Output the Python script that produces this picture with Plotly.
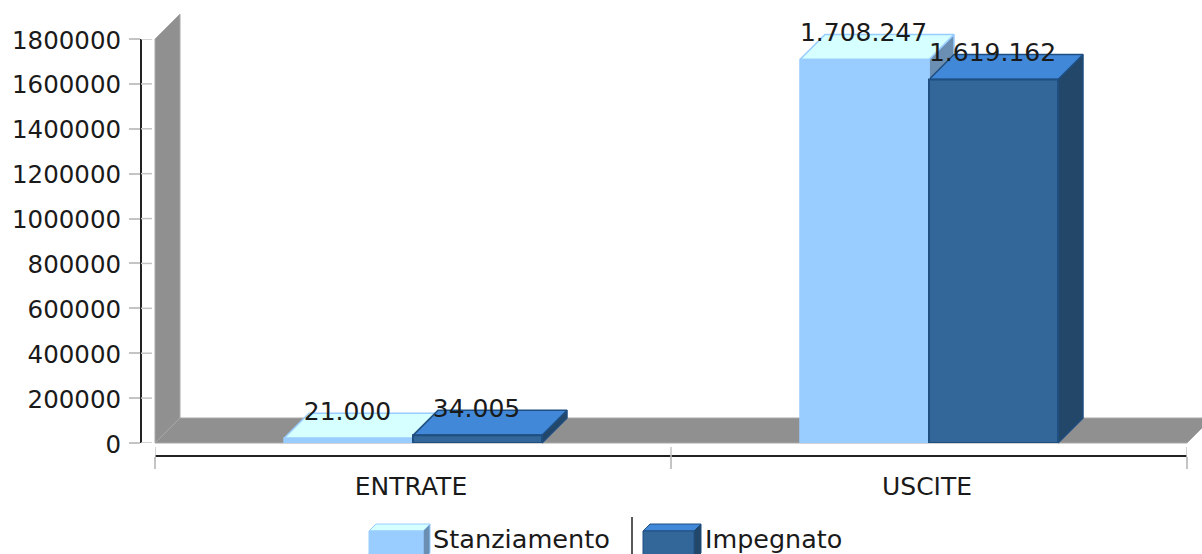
import plotly.graph_objects as go

categories = ["ENTRATE", "USCITE"]
series_names = ["Stanziamento", "Impegnato"]
stanziamento = [21000, 1708247]
impegnato = [34005, 1619162]
value_labels = [["21.000", "1.708.247"], ["34.005", "1.619.162"]]
y_ticks = [0, 200000, 400000, 600000, 800000, 1000000, 1200000, 1400000, 1600000, 1800000]

W, H = 1202, 554
L, R, T, B = 155, 1187, 39, 443
DEPTH = 25
Y_MAX = 1800000
px_x = (R - L) / 2          # pixels per category
px_y = (B - T) / Y_MAX      # pixels per value unit
dx, dy = DEPTH / px_x, DEPTH / px_y
BAR_W = 0.25

FRONT = ["#99CCFF", "#336699"]
EDGE = ["#99CCFF", "#1F4E80"]
TOP = ["#D6FFFF", "#4189D8"]
SIDE = ["#6B8FB2", "#234768"]
WALL = "#909090"
WALL_EDGE = "#A8A8A8"
TXT = "#1a1a1a"
FONT = "DejaVu Sans"


def poly(xs, ys, fill, line=None, width=1.5):
    return go.Scatter(
        x=xs + xs[:1], y=ys + ys[:1], mode="lines", fill="toself", fillcolor=fill,
        line=dict(color=line or fill, width=width), xaxis="x", yaxis="y",
        hoverinfo="skip", showlegend=False,
    )


traces = [
    poly([-0.5, -0.5, -0.5 + dx, -0.5 + dx], [0, Y_MAX, Y_MAX + dy, dy], WALL, WALL_EDGE, 1),
    poly([-0.5, 1.5, 1.5 + dx, -0.5 + dx], [0, 0, dy, dy], WALL, WALL_EDGE, 1),
]

all_values = [stanziamento, impegnato]
for s, values in enumerate(all_values):
    for c, v in enumerate(values):
        x0 = c - BAR_W + s * BAR_W
        x1 = x0 + BAR_W
        traces.append(poly([x1, x1 + dx, x1 + dx, x1], [0, dy, v + dy, v], SIDE[s], EDGE[s]))
        traces.append(poly([x0, x1, x1 + dx, x0 + dx], [v, v, v + dy, v + dy], TOP[s], EDGE[s]))

for s, values in enumerate(all_values):
    traces.append(go.Bar(
        x=[0, 1], y=values, name=series_names[s], xaxis="x2", yaxis="y2",
        marker=dict(color=FRONT[s], line=dict(color=EDGE[s], width=2 if s else 1.5)),
        showlegend=False, hoverinfo="skip",
    ))

lab_x, lab_y, lab_t = [], [], []
for s, values in enumerate(all_values):
    for c, v in enumerate(values):
        lab_x.append(c - BAR_W / 2 + s * BAR_W - 1 / px_x)
        lab_y.append(v + 24.5 / px_y)
        lab_t.append(value_labels[s][c])
traces.append(go.Scatter(
    x=lab_x, y=lab_y, text=lab_t, mode="text", textposition="middle center",
    textfont=dict(family=FONT, size=25, color=TXT), xaxis="x3", yaxis="y3",
    cliponaxis=False, showlegend=False, hoverinfo="skip",
))

fig = go.Figure(traces)

shapes = []
GRAY = "#C4C4C4"
for t in y_ticks:
    shapes.append(dict(type="line", xref="paper", yref="y2", x0=141 / W, x1=152 / W, y0=t, y1=t,
                       line=dict(color=GRAY, width=1.5)))
for t in [-0.5, 0.5, 1.5]:
    shapes.append(dict(type="line", xref="x2", yref="paper", x0=t, x1=t,
                       y0=(H - 447) / H, y1=(H - 457) / H, line=dict(color=GRAY, width=1.5)))


def legend_icon(x0, x1, y0, y1, d, s):
    def path(pts):
        return "M" + " L".join(f"{a / W},{(H - b) / H}" for a, b in pts) + " Z"
    for pts, col in (([(x0, y0), (x1, y0), (x1 + d, y0 - d), (x0 + d, y0 - d)], TOP[s]),
                     ([(x1, y1), (x1 + d, y1 - d), (x1 + d, y0 - d), (x1, y0)], SIDE[s]),
                     ([(x0, y0), (x1, y0), (x1, y1), (x0, y1)], FRONT[s])):
        shapes.append(dict(type="path", xref="paper", yref="paper", path=path(pts),
                           fillcolor=col, line=dict(color=EDGE[s], width=1)))


legend_icon(369, 423, 531, 560, 7, 0)
legend_icon(643, 694, 531, 560, 7, 1)
shapes.append(dict(type="line", xref="paper", yref="paper", x0=632 / W, x1=632 / W,
                   y0=(H - 517) / H, y1=0, line=dict(color="#222222", width=1.5)))

annotations = [
    dict(text=series_names[0], xref="paper", yref="paper", x=430.5 / W, y=(H - 539) / H,
         xanchor="left", yanchor="middle", showarrow=False,
         font=dict(family=FONT, size=25.6, color=TXT)),
    dict(text=series_names[1], xref="paper", yref="paper", x=702.5 / W, y=(H - 539) / H,
         xanchor="left", yanchor="middle", showarrow=False,
         font=dict(family=FONT, size=25.4, color=TXT)),
]

hidden_x = dict(domain=[0, 1], range=[-0.5 - L / px_x, -0.5 + (W - L) / px_x],
                visible=False, fixedrange=True)
hidden_y = dict(domain=[0, 1], range=[-(H - B) / px_y, B / px_y],
                visible=False, fixedrange=True)

fig.update_layout(
    width=W, height=H, autosize=False,
    margin=dict(l=0, r=0, t=0, b=0, pad=0, autoexpand=False),
    paper_bgcolor="white", plot_bgcolor="rgba(0,0,0,0)",
    barmode="group", bargap=0.5, bargroupgap=0,
    shapes=shapes, annotations=annotations, showlegend=False,
    xaxis=hidden_x, yaxis=hidden_y,
    xaxis3=dict(hidden_x, anchor="y3"), yaxis3=dict(hidden_y, anchor="x3"),
    xaxis2=dict(domain=[L / W, R / W], range=[-0.5, 1.5], anchor="free", position=(H - 456) / H,
                tickmode="array", tickvals=[0, 1], ticktext=categories, ticks="",
                showgrid=False, zeroline=False, showline=True, linecolor="#222222", linewidth=2,
                tickfont=dict(family=FONT, size=25, color=TXT), ticklabelstandoff=8,
                ticklabelshift=-2,
                minor=dict(tickmode="array", tickvals=[-0.5, 0.5, 1.5], ticks="outside",
                           ticklen=12, tickcolor=GRAY, tickwidth=1.5, showgrid=False),
                fixedrange=True),
    yaxis2=dict(domain=[(H - B) / H, (H - T) / H], range=[0, Y_MAX], anchor="free", position=141 / W,
                tickmode="array", tickvals=y_ticks, ticktext=[str(t) for t in y_ticks],
                ticks="outside", ticklen=11, tickcolor=GRAY, tickwidth=1.5,
                showgrid=False, zeroline=False, showline=True, linecolor="#222222", linewidth=2,
                tickfont=dict(family=FONT, size=24.5, color=TXT), ticklabelstandoff=3,
                ticklabelshift=1, fixedrange=True),
)

fig.write_html("out.html", config=dict(displayModeBar=False),
               post_script="document.body.style.margin='0';")
